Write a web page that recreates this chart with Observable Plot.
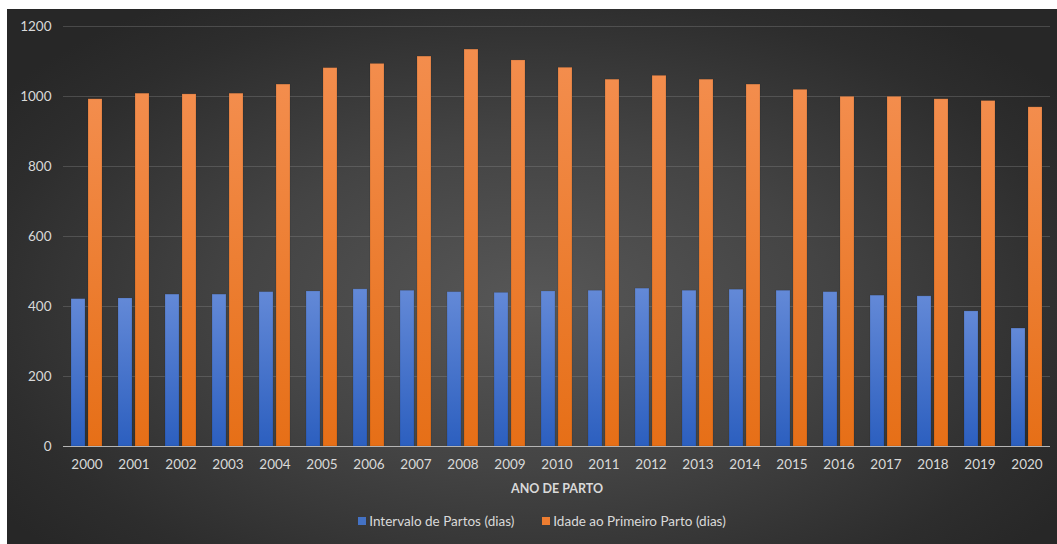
<!DOCTYPE html>
<html>
<head>
<meta charset="utf-8">
<script src="https://cdn.jsdelivr.net/npm/d3@7"></script>
<script src="https://cdn.jsdelivr.net/npm/@observablehq/plot@0.6"></script>
<style>
  html, body { margin: 0; padding: 0; background: #ffffff; }
  #chart {
    position: absolute; left: 7px; top: 9px; width: 1050px; height: 535px;
    background: radial-gradient(ellipse 62% 68% at 50% 55%, #575757 0%, #444444 45%, #2d2d2d 85%, #272727 100%);
    font-family: Lato, "Open Sans", sans-serif;
  }
  #chart svg { display: block; }
  #chart g[aria-label="fx-axis label"] { font-weight: bold; font-size: 12.5px; }
  #legend {
    position: absolute; left: 0; top: 503px; width: 1050px; text-align: center;
    color: #d9d9d9; font-size: 13.5px; padding-left: 20px; box-sizing: border-box;
  }
  #legend span.item { display: inline-flex; align-items: center; margin: 0 14px; }
  #legend span.sw { display: inline-block; width: 8px; height: 8px; margin-right: 3px; }
</style>
</head>
<body>
<svg width="0" height="0" style="position:absolute">
  <defs>
    <linearGradient id="gBlue" x1="0" y1="0" x2="0" y2="1">
      <stop offset="0" stop-color="#6389d7"/>
      <stop offset="1" stop-color="#2c5fbf"/>
    </linearGradient>
    <linearGradient id="gOrange" x1="0" y1="0" x2="0" y2="1">
      <stop offset="0" stop-color="#f38d4d"/>
      <stop offset="1" stop-color="#e66f17"/>
    </linearGradient>
  </defs>
</svg>
<div id="chart"></div>
<script>
const years = ["2000","2001","2002","2003","2004","2005","2006","2007","2008","2009","2010",
               "2011","2012","2013","2014","2015","2016","2017","2018","2019","2020"];
const seriesNames = ["Intervalo de Partos (dias)", "Idade ao Primeiro Parto (dias)"];
const intervalo = [421, 423, 434, 434, 441, 443, 449, 445, 441, 439, 443,
                   445, 451, 445, 448, 445, 441, 431, 429, 386, 337];
const idade = [992, 1008, 1006, 1008, 1034, 1081, 1093, 1114, 1134, 1103, 1082,
               1048, 1059, 1048, 1034, 1019, 999, 999, 992, 987, 969];
const yTicks = [0, 200, 400, 600, 800, 1000, 1200];
const swatchColors = ["#4472c4", "#ed7d31"];

const rows = [];
years.forEach((y, i) => {
  rows.push({year: y, serie: seriesNames[0], value: intervalo[i]});
  rows.push({year: y, serie: seriesNames[1], value: idade[i]});
});

const plot = Plot.plot({
  width: 1050,
  height: 486,
  marginLeft: 54,
  marginRight: 5,
  marginTop: 17,
  marginBottom: 49,
  style: {fontFamily: "Lato, 'Open Sans', sans-serif", fontSize: "13.5px", color: "#d9d9d9", background: "transparent", overflow: "visible"},
  fx: {domain: years, padding: 0, label: null, axis: null},
  x: {domain: seriesNames, paddingInner: 0.1667, paddingOuter: 0.394, axis: null},
  y: {domain: [0, 1200], label: null, axis: null},
  color: {domain: seriesNames, range: ["url(#gBlue)", "url(#gOrange)"]},
  marks: [
    Plot.gridY(yTicks, {stroke: "#8a8a8a", strokeOpacity: 0.35, strokeWidth: 1}),
    Plot.barY(rows, {fx: "year", x: "serie", y: "value", fill: "serie", stroke: "#000", strokeOpacity: 0.15, strokeWidth: 0.8}),
    Plot.ruleY([0], {stroke: "#b5b5b5", strokeWidth: 1.2}),
    Plot.axisY(yTicks, {anchor: "left", tickSize: 0, tickPadding: 12, tickFormat: d => String(d), label: null, fill: "#d9d9d9"}),
    Plot.axisFx({anchor: "bottom", tickSize: 0, tickPadding: 13, label: "ANO DE PARTO", labelAnchor: "center", labelArrow: "none", labelOffset: 46, fill: "#d9d9d9"})
  ]
});

const chart = document.getElementById("chart");
chart.appendChild(plot);

const legend = document.createElement("div");
legend.id = "legend";
seriesNames.forEach((name, i) => {
  const item = document.createElement("span");
  item.className = "item";
  const sw = document.createElement("span");
  sw.className = "sw";
  sw.style.background = swatchColors[i];
  item.appendChild(sw);
  item.appendChild(document.createTextNode(name));
  legend.appendChild(item);
});
chart.appendChild(legend);
</script>
</body>
</html>
